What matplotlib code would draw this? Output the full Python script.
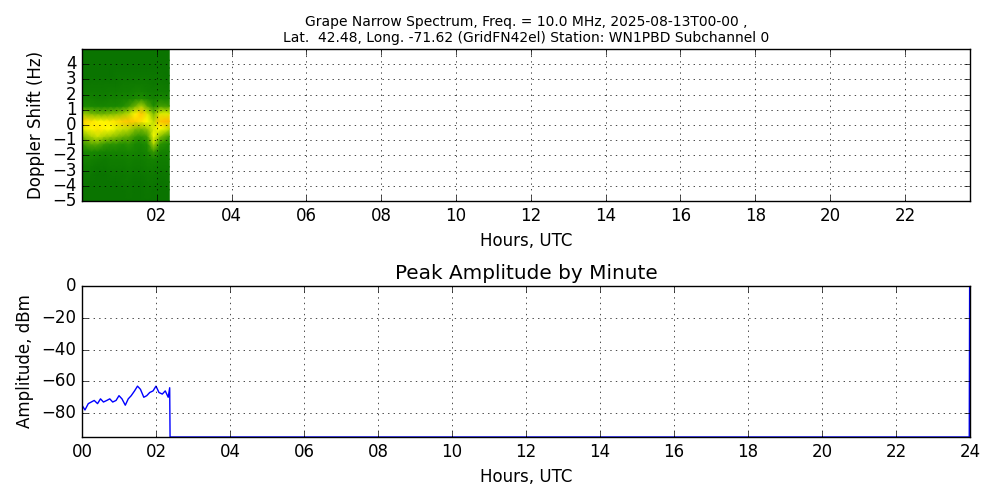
import matplotlib
matplotlib.use("Agg")
import matplotlib.pyplot as plt
import numpy as np
from matplotlib.colors import LinearSegmentedColormap

plt.style.use('classic')

# Spectrogram: time bins (hours) edges, doppler bins (Hz) edges
spec_time_edges = [0, 0.167, 0.333, 0.5, 0.667, 0.833, 1.0, 1.167, 1.333, 1.5, 1.667, 1.833, 2.0, 2.167, 2.333]
spec_freq_edges = [-5, -4.5, -4, -3.5, -3, -2.5, -2, -1.5, -1, -0.5, 0, 0.5, 1, 1.5, 2, 2.5, 3, 3.5, 4, 4.5, 5]
# rows: freq bins from -5 (bottom) to 5 (top); columns: time bins
spec_values = [
    [.10,.10,.10,.10,.10,.10,.10,.10,.10,.10,.10,.10,.10,.10],
    [.10,.10,.10,.10,.10,.10,.10,.12,.10,.10,.12,.10,.10,.10],
    [.12,.10,.10,.10,.10,.10,.12,.12,.10,.10,.12,.12,.10,.12],
    [.12,.12,.10,.10,.12,.12,.12,.14,.12,.12,.14,.14,.12,.12],
    [.15,.14,.12,.12,.14,.14,.14,.16,.14,.14,.16,.16,.14,.14],
    [.18,.18,.16,.14,.16,.16,.16,.18,.16,.16,.18,.20,.16,.16],
    [.22,.24,.22,.20,.20,.20,.20,.22,.20,.18,.22,.30,.20,.18],
    [.30,.35,.35,.30,.28,.28,.26,.28,.24,.22,.26,.48,.28,.22],
    [.40,.48,.52,.48,.45,.42,.38,.36,.30,.28,.32,.58,.42,.30],
    [.55,.62,.65,.62,.60,.55,.52,.50,.42,.40,.45,.55,.60,.50],
    [.70,.66,.62,.62,.64,.66,.70,.72,.70,.66,.60,.50,.72,.75],
    [.45,.40,.38,.38,.40,.42,.45,.50,.62,.72,.55,.40,.55,.55],
    [.25,.24,.22,.22,.24,.24,.26,.30,.38,.48,.35,.26,.32,.30],
    [.18,.18,.16,.16,.18,.18,.20,.20,.24,.26,.22,.18,.22,.20],
    [.14,.14,.14,.14,.15,.15,.16,.16,.18,.18,.16,.15,.16,.15],
    [.12,.12,.12,.12,.12,.12,.14,.14,.14,.15,.14,.12,.14,.12],
    [.10,.10,.10,.10,.10,.12,.12,.12,.12,.12,.12,.12,.12,.10],
    [.10,.10,.10,.10,.10,.10,.10,.10,.10,.10,.10,.10,.10,.10],
    [.10,.10,.10,.10,.10,.10,.10,.10,.10,.10,.10,.10,.10,.10],
    [.10,.10,.10,.10,.10,.10,.10,.10,.10,.10,.10,.10,.10,.10],
]

# Peak amplitude by minute (sampled every ~5 min)
amp_hours = [0.0, 0.08, 0.17, 0.25, 0.33, 0.42, 0.5, 0.58, 0.67, 0.75, 0.83, 0.92, 1.0, 1.08,
             1.17, 1.25, 1.33, 1.42, 1.5, 1.58, 1.67, 1.75, 1.83, 1.92, 2.0, 2.08, 2.17, 2.25, 2.33, 2.37,
             2.38, 23.98, 23.99, 24.0]
amp_dbm = [-75, -78, -74, -73, -72, -74, -71, -73, -72, -71, -73, -72, -69, -71,
           -75, -71, -69, -66, -63, -65, -70, -69, -67, -66, -63, -67, -68, -66, -70, -64,
           -95, -95, -1, 0]

x_ticks_top = [2, 4, 6, 8, 10, 12, 14, 16, 18, 20, 22]
x_ticks_bot = [0, 2, 4, 6, 8, 10, 12, 14, 16, 18, 20, 22, 24]
y_ticks_top = [-5, -4, -3, -2, -1, 0, 1, 2, 3, 4]
y_ticks_bot = [-80, -60, -40, -20, 0]

cmap = LinearSegmentedColormap.from_list('gy', [(0, '#006600'), (0.25, '#1a8a00'), (0.45, '#99c800'),
                                                (0.6, '#ffff00'), (0.8, '#ffa000'), (1.0, '#ff0000')])

fig = plt.figure(figsize=(10, 5), dpi=100, facecolor='white')
ax1 = fig.add_axes([0.082, 0.598, 0.888, 0.304])
ax2 = fig.add_axes([0.082, 0.126, 0.888, 0.302])

te = np.array(spec_time_edges)
fe = np.array(spec_freq_edges)
tc = (te[:-1] + te[1:]) / 2
fc = (fe[:-1] + fe[1:]) / 2
tc[0], tc[-1] = te[0], te[-1]
fc[0], fc[-1] = fe[0], fe[-1]
ax1.pcolormesh(tc, fc, np.array(spec_values), cmap=cmap, vmin=0, vmax=1, shading='gouraud')
ax1.set_xlim(0, 23.74)
ax1.set_ylim(-5, 5)
ax1.set_xticks(x_ticks_top)
ax1.set_xticklabels([f"{t:02d}" for t in x_ticks_top])
ax1.set_yticks(y_ticks_top)
ax1.set_xlabel('Hours, UTC')
ax1.set_ylabel('Doppler Shift (Hz)')
ax1.grid(True)
ax1.set_axisbelow(False)
ax1.set_title('Grape Narrow Spectrum, Freq. = 10.0 MHz, 2025-08-13T00-00 ,\n'
              'Lat.  42.48, Long. -71.62 (GridFN42el) Station: WN1PBD Subchannel 0', fontsize=10)

ax2.plot(amp_hours, amp_dbm, color='blue', lw=1)
ax2.set_xlim(0, 24)
ax2.set_ylim(-95, 0)
ax2.set_xticks(x_ticks_bot)
ax2.set_xticklabels([f"{t:02d}" for t in x_ticks_bot])
ax2.set_yticks(y_ticks_bot)
ax2.set_xlabel('Hours, UTC')
ax2.set_ylabel('Amplitude, dBm')
ax2.set_title('Peak Amplitude by Minute')
ax2.grid(True)

fig.savefig('out.png', dpi=100, facecolor='white')
